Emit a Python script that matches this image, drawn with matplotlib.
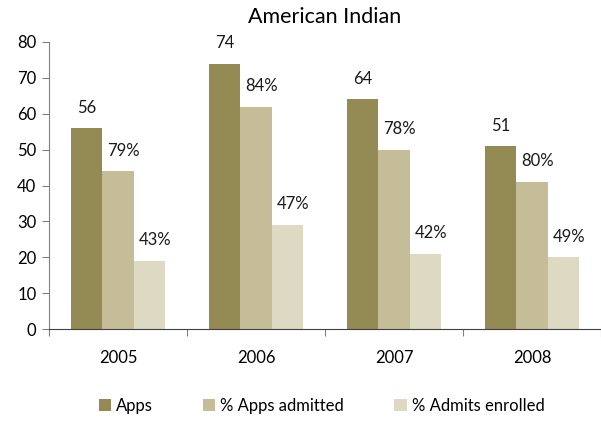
import numpy as np
import matplotlib
matplotlib.use('Agg')
import matplotlib.pyplot as plt

plt.rcParams['font.family'] = ['Lato', 'DejaVu Sans']

years = ['2005', '2006', '2007', '2008']
apps = [56, 74, 64, 51]
admitted = [44, 62, 50, 41]
enrolled = [19, 29, 21, 20]
admitted_pct = ['79%', '84%', '78%', '80%']
enrolled_pct = ['43%', '47%', '42%', '49%']

colors = ['#948A54', '#C4BD97', '#DDD9C3']

fig = plt.figure(figsize=(6.01, 4.22), dpi=100)
ax = fig.add_axes([49 / 601, 1 - 329 / 422, 552 / 601, 287 / 422])

x = np.arange(len(years))
w = 0.225
series = [(apps, [str(v) for v in apps], 0), (admitted, admitted_pct, 4), (enrolled, enrolled_pct, 4)]
names = ['Apps', '% Apps admitted', '% Admits enrolled']
for i, ((vals, labels, dx), c, name) in enumerate(zip(series, colors, names)):
    pos = x + (i - 1) * w
    ax.bar(pos, vals, width=w, color=c, label=name)
    for p, v, lab in zip(pos, vals, labels):
        ax.annotate(lab, (p, v), xytext=(dx, 9), textcoords='offset points',
                    ha='center', va='bottom', fontsize=12, color='#1a1a1a')

ax.set_xlim(-0.5, 3.5)
ax.set_ylim(0, 80)
ax.set_yticks(range(0, 81, 10))
ax.set_xticks([-0.5, 0.5, 1.5, 2.5, 3.5])
ax.set_xticklabels([])
ax.set_xticks(x, minor=True)
ax.set_xticklabels(years, minor=True, fontsize=12)
ax.tick_params(axis='x', which='minor', length=0, pad=15)
ax.tick_params(axis='x', which='major', length=5, color='#808080')
ax.tick_params(axis='y', length=5, color='#808080', labelsize=12, pad=4)
for s in ['top', 'right']:
    ax.spines[s].set_visible(False)
ax.spines['left'].set_color('#808080')
ax.spines['bottom'].set_color('#404040')

ax.set_title('American Indian', fontsize=15.5, pad=14)
fig.legend(loc='lower center', bbox_to_anchor=(0.535, -0.017), ncol=3, frameon=False,
           fontsize=12, handlelength=0.75, handleheight=0.75, columnspacing=3.0,
           handletextpad=0.3)

fig.savefig('out.png', dpi=100)
